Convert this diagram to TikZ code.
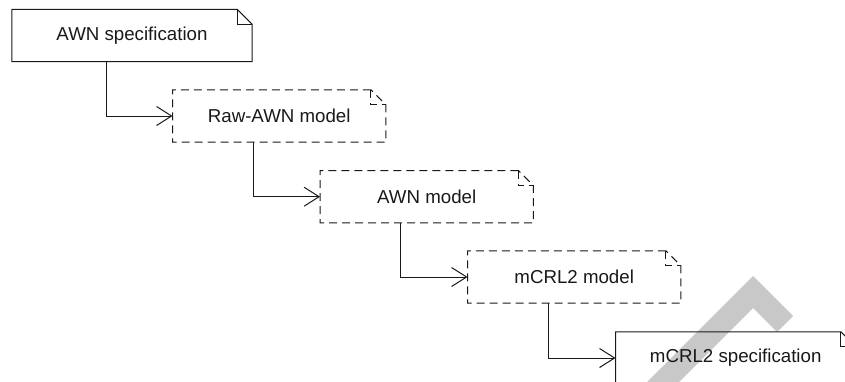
\documentclass[tikz,border=0pt]{standalone}
\usepackage{fontspec}
\setmainfont{Liberation Sans}
\usetikzlibrary{arrows.meta}
\definecolor{wm}{RGB}{200,200,200}
\definecolor{ln}{RGB}{25,25,25}
\begin{document}
\begin{tikzpicture}[x=1pt,y=-1pt,
  note/.style={rectangle, inner sep=0pt, minimum width=213pt, minimum height=52pt,
    font=\fontsize{18.7pt}{22pt}\selectfont, text=ln},
  wide/.style={minimum width=240pt},
  arr/.style={draw=ln, line width=1pt, -{Straight Barb[length=15pt,width=19pt,line width=1pt]}},
  outline/.style={draw=ln, line width=1pt, line join=miter},
  dsh/.style={dash pattern=on 8pt off 5pt}]
\useasboundingbox (0,0) rectangle (845,381);
\clip (0,0) rectangle (845,381);
\fill[wm] (638,391) -- (753,276) -- (793,316) -- (777,332) -- (753,308) -- (670,391) -- cycle;
\node[note,wide] (a) at (132,35.5) {AWN specification};
\node[note] (b) at (279.2,116) {Raw-AWN model};
\node[note] (c) at (426.7,196.7) {AWN model};
\node[note] (d) at (574.2,277) {mCRL2 model};
\node[note,wide] (e) at (735.7,358) {mCRL2 specification};
\foreach \n/\s in {a/solid,b/dsh,c/dsh,d/dsh,e/solid} {
  \draw[outline,\s] ([xshift=-15pt]\n.north east) -- (\n.north west) -- (\n.south west)
    -- (\n.south east) -- ([yshift=-15pt]\n.north east) -- cycle;
  \draw[outline,\s] ([xshift=-15pt]\n.north east) -- ++(0,15) -- ++(15,0);
}
\draw[arr] ([xshift=-26pt]a.south) |- (b.west);
\draw[arr] ([xshift=-26pt]b.south) |- (c.west);
\draw[arr] ([xshift=-26pt]c.south) |- (d.west);
\draw[arr] ([xshift=-26pt]d.south) |- (e.west);
\end{tikzpicture}
\end{document}
